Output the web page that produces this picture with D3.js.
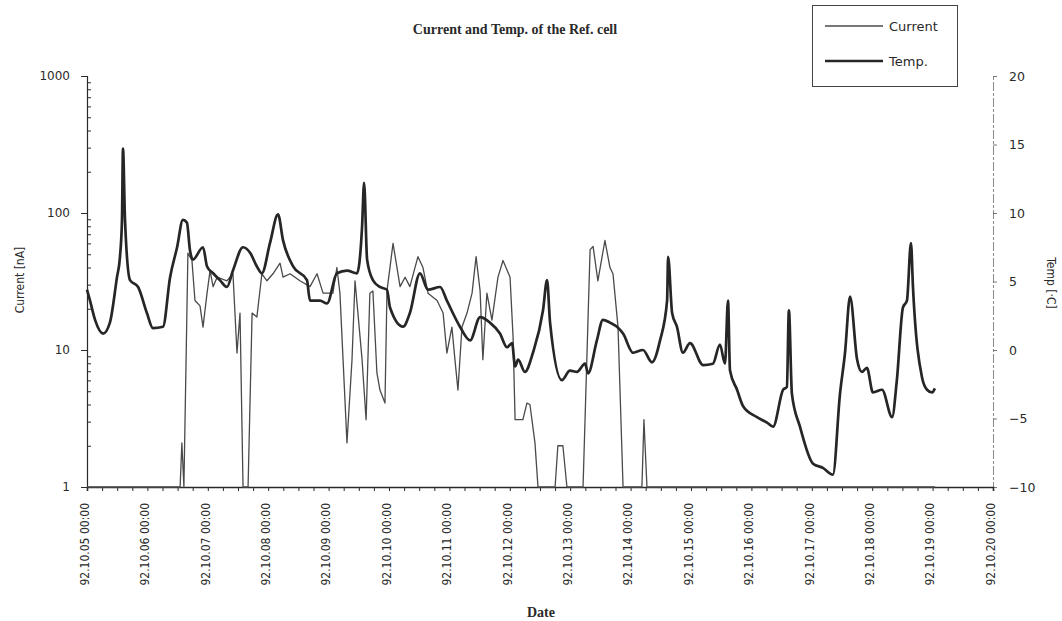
<!DOCTYPE html>
<html>
<head>
<meta charset="utf-8">
<script src="https://cdn.jsdelivr.net/npm/d3@7"></script>
<style>
  body { margin: 0; background: #fff; }
  svg { display: block; }
</style>
</head>
<body>
<svg id="chart" width="1062" height="621"></svg>
<script>
  /* ── DATA (hours since 92.10.05 00:00) ── */
  const START = new Date(1992, 9, 5, 0, 0);
  const END   = new Date(1992, 9, 20, 0, 0);

  const TEMP_HOURS = [
    0, 1.2, 3.2, 6.4, 9.1, 11.9, 13.1, 13.9, 14.3, 15.1, 17.1, 20.3, 23.8, 26.2, 30.2,
    33.0, 35.8, 38.1, 39.7, 40.9, 42.1, 46.1, 47.7, 50.1, 52.8, 55.6, 58.0, 62.0, 64.8,
    67.5, 69.5, 72.7, 75.9, 77.9, 81.9, 87.4, 88.6, 92.6, 95.4, 99.3, 103.3, 107.3,
    109.3, 110.1, 111.3, 113.6, 116.4, 119.2, 120.4, 125.6, 128.3, 132.3, 135.5, 140.3,
    143.0, 148.2, 152.2, 156.2, 160.1, 164.1, 166.9, 168.9, 170.1, 171.3, 174.0, 177.2,
    181.2, 182.8, 184.0, 188.7, 191.9, 194.7, 197.9, 199.1, 202.6, 205.0, 207.8, 210.6,
    213.0, 217.0, 220.9, 224.5, 227.7, 230.5, 230.9, 232.5, 234.4, 236.8, 239.6, 244.8,
    248.7, 251.5, 253.5, 254.7, 255.5, 258.3, 260.7, 266.2, 270.2, 272.6, 276.6, 278.1,
    278.9, 280.1, 283.3, 288.5, 292.4, 296.4, 299.2, 301.2, 303.2, 306.0, 307.9, 309.9,
    312.3, 315.9, 319.9, 321.8, 324.2, 325.8, 327.4, 328.2, 331.8, 333.8, 335.8, 336.9
  ];
  const TEMP_VALUES = [
    4.4, 3.6, 2.2, 1.2, 2.0, 5.3, 6.8, 9.5, 14.7, 9.5, 5.1, 4.6, 2.7, 1.6, 1.7,
    5.3, 7.5, 9.5, 9.3, 7.3, 6.6, 7.5, 6.1, 5.6, 5.1, 4.6, 5.8, 7.5, 7.1,
    6.1, 5.6, 7.8, 9.9, 8.0, 6.1, 5.1, 3.6, 3.6, 3.4, 5.6, 5.8, 5.6,
    9.0, 12.2, 6.6, 5.1, 4.6, 4.4, 3.1, 1.7, 2.7, 5.6, 4.4, 4.6,
    3.6, 1.7, 0.7, 2.4, 2.0, 1.2, 0.2, 0.5, -1.2, -0.7, -1.6, -0.2,
    2.9, 5.1, 2.0, -2.2, -1.5, -1.6, -1.0, -1.7, 0.7, 2.2, 2.0, 1.7,
    1.2, -0.2, 0.0, -0.9, 0.7, 3.6, 6.8, 2.7, 1.7, -0.2, 0.5, -1.1,
    -1.0, 0.4, -1.0, 3.6, -1.5, -2.9, -4.1, -4.9, -5.3, -5.6, -2.9, -2.7,
    2.9, -3.2, -5.6, -8.3, -8.6, -9.1, -3.2, -0.2, 3.9, -0.7, -1.6, -1.3,
    -3.1, -2.9, -4.9, -2.2, 3.1, 3.6, 7.8, 4.6, -2.0, -2.9, -3.1, -2.8
  ];

  const CURRENT_HOURS = [
    0, 37.0, 37.7, 38.5, 40.1, 41.7, 42.9, 44.9, 46.1, 47.7, 48.9, 50.1, 51.7, 55.6,
    58.0, 59.6, 60.8, 62.0, 64.0, 65.6, 67.5, 69.5, 71.5, 73.9, 76.7, 77.9, 80.7, 84.6,
    88.6, 91.4, 93.8, 97.7, 99.3, 100.5, 103.3, 105.3, 106.5, 109.3, 110.9, 112.4, 113.6,
    115.2, 116.4, 118.4, 119.2, 121.6, 124.4, 126.4, 128.3, 131.5, 133.5, 135.5, 139.1,
    141.5, 143.0, 145.0, 146.2, 147.4, 149.0, 151.0, 153.0, 154.6, 156.2, 157.3, 158.9,
    160.9, 163.3, 165.3, 168.1, 169.3, 170.1, 173.2, 174.8, 176.0, 178.0, 179.2, 186.0,
    187.1, 189.1, 190.7, 197.1, 199.9, 201.1, 203.0, 205.8, 207.8, 209.0, 211.0, 213.0,
    220.5, 221.3, 222.5, 337.0
  ];
  const CURRENT_VALUES = [
    1, 1, 2.1, 1, 51, 45, 23, 21, 14.7, 26, 38, 29, 34, 32,
    36, 9.5, 18.6, 1, 1, 18.6, 17.4, 36, 32, 36, 43, 34, 36, 32,
    29, 36, 26, 26, 40, 26, 2.1, 8.5, 32, 8.5, 3.1, 26, 27,
    6.8, 5.1, 4.1, 27, 60, 29, 34, 29, 48, 40, 26, 23,
    18.6, 9.5, 14.7, 8.5, 5.1, 14.7, 18.6, 26, 48, 27, 8.5, 26,
    16.5, 34, 45, 34, 12.4, 3.1, 3.1, 4.1, 4, 2.1, 1, 1,
    2, 2, 1, 1, 54, 57, 32, 63, 40, 36, 14.7, 1,
    1, 3.1, 1, 1
  ];

  const CURRENT_TICKS = [1, 10, 100, 1000];
  const TEMP_TICKS    = [-10, -5, 0, 5, 10, 15, 20];
  const SERIES_NAMES  = ['Current', 'Temp.'];

  /* ── LAYOUT ── */
  const LEFT = 87, RIGHT = 993, TOP = 76, BOTTOM = 487;
  const SANS  = "'DejaVu Sans', sans-serif";
  const COND  = "'DejaVu Sans Condensed', 'Liberation Sans Narrow', 'DejaVu Sans', sans-serif";
  const SERIF = "'Liberation Serif', 'DejaVu Serif', serif";
  const INK   = '#2a2a2a';
  const CUR_COLOR  = '#4a4a4a';
  const TEMP_COLOR = '#262626';

  const svg = d3.select('#chart');
  const hourToDate = h => new Date(START.getTime() + h * 3600e3);

  const x  = d3.scaleTime().domain([START, END]).range([LEFT, RIGHT]);
  const yL = d3.scaleLog().domain([1, 1000]).range([BOTTOM, TOP]);
  const yR = d3.scaleLinear().domain([-10, 20]).range([BOTTOM, TOP]);

  const styleAxis = (ax, font, size) => {
    ax.selectAll('line').attr('stroke', INK);
    ax.selectAll('text').style('font-family', font).style('font-size', size).attr('fill', INK);
  };

  /* left (log) axis: major ticks outward, minor ticks inward */
  const minor = [];
  [1, 10, 100].forEach(d => { for (let k = 2; k <= 9; k++) minor.push(d * k); });

  svg.append('g').attr('transform', `translate(${LEFT},0)`)
    .call(d3.axisLeft(yL).tickValues(CURRENT_TICKS).tickFormat(d3.format('d')).tickSize(6).tickPadding(11))
    .call(ax => ax.select('.domain').attr('stroke', INK).attr('stroke-width', 1.2))
    .call(ax => styleAxis(ax, SANS, '12px'));
  svg.append('g').attr('transform', `translate(${LEFT},0)`)
    .call(d3.axisRight(yL).tickValues(minor).tickSize(4).tickFormat(''))
    .call(ax => ax.select('.domain').remove())
    .call(ax => ax.selectAll('line').attr('stroke', INK));

  /* right (temp) axis: faint broken line, ticks outward */
  svg.append('g').attr('transform', `translate(${RIGHT},0)`)
    .call(d3.axisRight(yR).tickValues(TEMP_TICKS).tickSize(4).tickPadding(12))
    .call(ax => ax.select('.domain').attr('stroke', '#8a8a8a').attr('stroke-dasharray', '9 2 3 2'))
    .call(ax => styleAxis(ax, SANS, '12.5px'))
    .call(ax => ax.selectAll('line').attr('stroke', '#777'));

  /* bottom (date) axis: ticks every 6 hours, labels at midnight */
  const dayFmt = d3.timeFormat('%y.%m.%d %H:%M');
  svg.append('g').attr('transform', `translate(0,${BOTTOM})`)
    .call(d3.axisBottom(x).ticks(d3.timeHour.every(6))
      .tickFormat(d => d.getHours() === 0 ? dayFmt(d) : '').tickSize(4))
    .call(ax => ax.select('.domain').attr('stroke', INK).attr('stroke-width', 1.6))
    .call(ax => styleAxis(ax, COND, '12px'))
    .call(ax => ax.selectAll('text')
      .attr('transform', 'rotate(-90)')
      .attr('text-anchor', 'end')
      .attr('x', -16).attr('y', 0).attr('dy', '0.1em'));

  /* ── SERIES ── */
  const curData  = CURRENT_HOURS.map((h, i) => ({ t: hourToDate(h), v: CURRENT_VALUES[i] }));
  const tempData = TEMP_HOURS.map((h, i) => ({ t: hourToDate(h), v: TEMP_VALUES[i] }));

  svg.append('path').datum(curData)
    .attr('fill', 'none').attr('stroke', CUR_COLOR).attr('stroke-width', 1.3)
    .attr('stroke-linejoin', 'round')
    .attr('d', d3.line().x(d => x(d.t)).y(d => yL(d.v)));

  svg.append('path').datum(tempData)
    .attr('fill', 'none').attr('stroke', TEMP_COLOR).attr('stroke-width', 2.7)
    .attr('stroke-linejoin', 'round')
    .attr('d', d3.line().x(d => x(d.t)).y(d => yR(d.v)).curve(d3.curveMonotoneX));

  /* ── TEXTS ── */
  svg.append('text').attr('x', 515).attr('y', 34).attr('text-anchor', 'middle')
    .style('font-family', SERIF).style('font-weight', 'bold').style('font-size', '14px')
    .attr('fill', INK).text('Current and Temp. of the Ref. cell');

  svg.append('text').attr('x', 541).attr('y', 617).attr('text-anchor', 'middle')
    .style('font-family', SERIF).style('font-weight', 'bold').style('font-size', '14px')
    .attr('fill', INK).text('Date');

  svg.append('text').attr('transform', 'translate(24,280) rotate(-90)').attr('text-anchor', 'middle')
    .style('font-family', COND).style('font-size', '12px').attr('fill', INK).text('Current [nA]');

  svg.append('text').attr('transform', 'translate(1047,283) rotate(90)').attr('text-anchor', 'middle')
    .style('font-family', COND).style('font-size', '12px').attr('fill', INK).text('Temp [·C]');

  /* ── LEGEND ── */
  const leg = svg.append('g');
  leg.append('rect').attr('x', 812.5).attr('y', 5.5).attr('width', 145).attr('height', 81)
    .attr('fill', '#fff').attr('stroke', '#444');
  SERIES_NAMES.forEach((name, i) => {
    const ly = 26 + i * 35;
    leg.append('line').attr('x1', 825).attr('x2', 883).attr('y1', ly).attr('y2', ly)
      .attr('stroke', i === 0 ? CUR_COLOR : TEMP_COLOR).attr('stroke-width', i === 0 ? 1.3 : 2.7);
    leg.append('text').attr('x', 889).attr('y', ly).attr('dy', '0.35em')
      .style('font-family', SANS).style('font-size', '13px').attr('fill', INK).text(name);
  });
</script>
</body>
</html>
